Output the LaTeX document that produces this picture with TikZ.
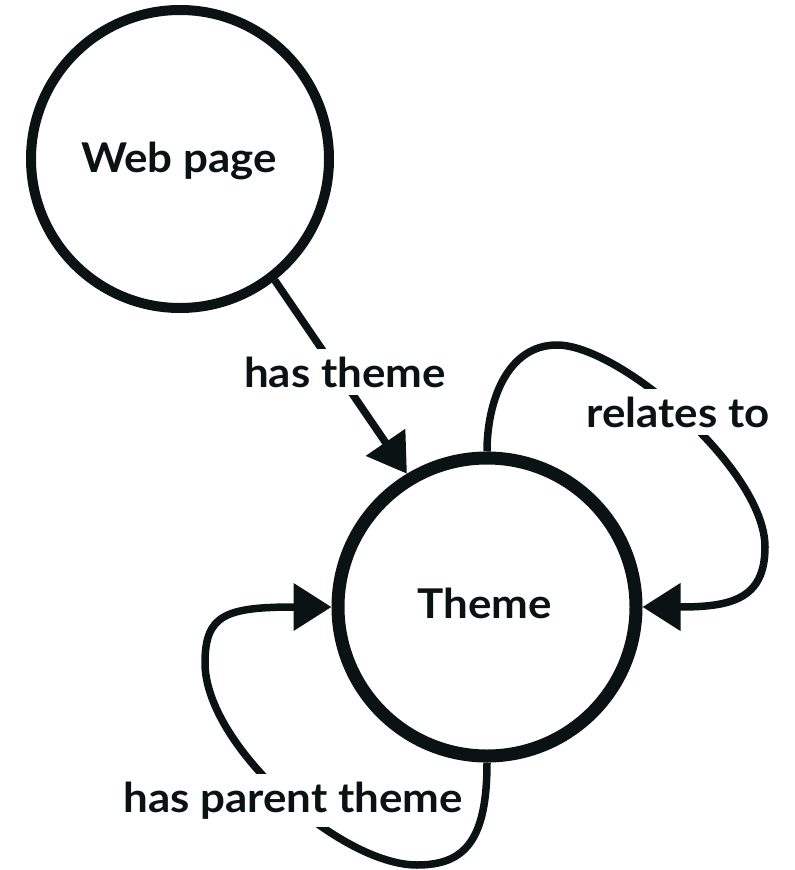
\documentclass[tikz,border=0pt]{standalone}
\usepackage{fontspec}
\setmainfont{Lato}[FakeStretch=1.07]
\usetikzlibrary{arrows.meta}
\definecolor{ink}{RGB}{10,18,20}
\begin{document}
\begin{tikzpicture}[x=1pt,y=-1pt,
  txt/.style={font=\fontsize{41}{49}\selectfont\bfseries, text=ink},
  entity/.style={circle, draw=ink, minimum size=298pt, inner sep=0pt, txt},
  lbl/.style={txt, fill=white, anchor=base, inner xsep=4pt, inner ysep=8pt},
  rel/.style={draw=ink, line width=7.5pt,
    -{Triangle[length=38pt,width=46pt]}}]
  \useasboundingbox (0,0) rectangle (795,870);

  % the two entities
  \node[entity, line width=10pt] (web) at (180,159) {};
  \node[entity, line width=13pt] (theme) at (487,607) {};
  \node[txt, anchor=base] (webtxt) at (179,172) {Web page};
  \node[txt, anchor=base] (themetxt) at (485,618) {Theme};

  % web page -> theme
  \draw[rel] (web.-52) -- (theme.121);

  % self relation over the top right
  \draw[rel] (theme.north) to[out=90,in=180] (557,345)
    .. controls (620,345) and (765,470) .. (765,547)
    .. controls (765,600) and (730,607) .. (theme.east);

  % self relation round the bottom left
  \draw[rel] (theme.south) .. controls (487,840) and (465,865) .. (417,865)
    .. controls (340,865) and (205,745) .. (205,663)
    .. controls (205,615) and (225,607) .. (theme.west);

  % relation labels, on top of the connectors
  \node[lbl] (hastheme) at (345,387) {has theme};
  \node[lbl] (relates) at (678,427) {relates to};
  \node[lbl] (parent) at (293,812) {has parent theme};
\end{tikzpicture}
\end{document}
